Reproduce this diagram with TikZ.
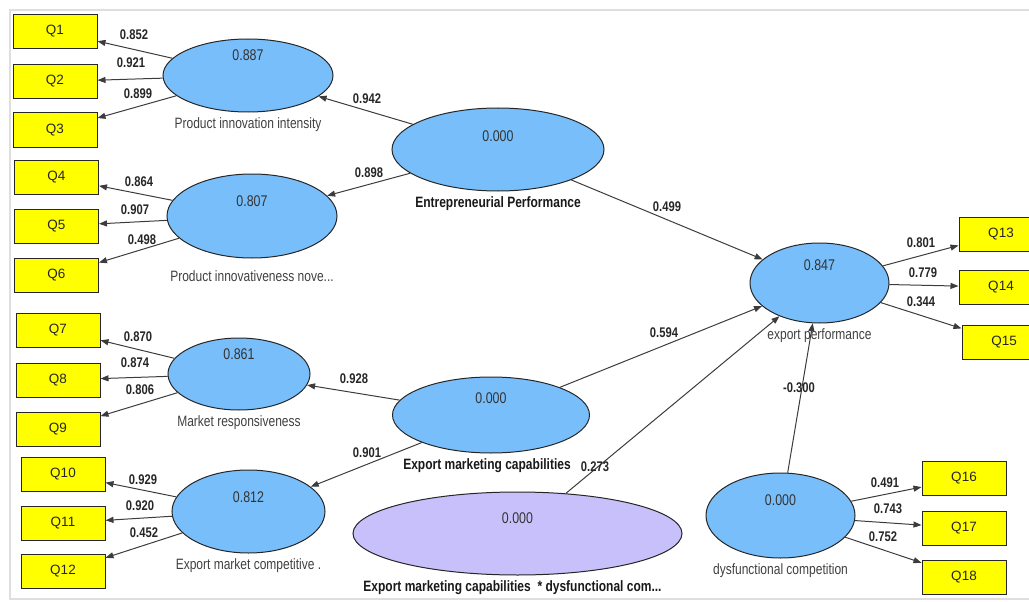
\documentclass[tikz,border=0pt]{standalone}
\usepackage{fontspec}
\setmainfont{Liberation Sans}
\newfontfamily\plsfont{Liberation Sans}[FakeStretch=0.8]
\usetikzlibrary{shapes.geometric,arrows.meta}

\definecolor{lvblue}{RGB}{120,190,250}
\definecolor{lvpurple}{RGB}{200,192,250}
\definecolor{mvyellow}{RGB}{255,255,0}
\definecolor{edgegray}{RGB}{60,60,60}

\tikzset{
  lv/.style={ellipse, draw=black!85, fill=lvblue, line width=1pt, inner sep=0pt},
  mv/.style={rectangle, draw=black!85, fill=mvyellow, line width=1pt,
    minimum width=84pt, minimum height=34pt, inner sep=0pt,
    font=\fontsize{13.5}{14}\selectfont, text=black!85},
  link/.style={draw=edgegray, line width=1pt, -{Triangle[length=8pt,width=6pt]}},
  wt/.style={font=\plsfont\bfseries\fontsize{14}{14}\selectfont, text=black!85, inner sep=0pt},
  valtxt/.style={font=\plsfont\fontsize{15.5}{15.5}\selectfont, text=black!80},
  nametxt/.style={font=\plsfont\fontsize{15}{15}\selectfont, text=black!75, inner sep=0pt, label distance=5pt},
  boldname/.style={font=\plsfont\bfseries\fontsize{15}{15}\selectfont, text=black!90, inner sep=0pt, label distance=5pt},
}

\begin{document}
\begin{tikzpicture}[x=1pt,y=-1pt]
  \useasboundingbox (0,0) rectangle (1029,602);
  %%% Frame of the screen shot
  \draw[gray!25, line width=1.5pt] (1029,10) -- (10,10) -- (10,599) -- (1029,599);

  %%% Latent variables
  \node[lv, minimum width=170pt, minimum height=73pt,
    label={[valtxt,yshift=20pt]center:0.887},
    label={[nametxt]below:Product innovation intensity}] (pii) at (248,75.5) {};
  \node[lv, minimum width=170pt, minimum height=84pt,
    label={[valtxt,yshift=15pt]center:0.807},
    label={[nametxt,label distance=12pt]below:Product innovativeness nove...}] (pin) at (252,216) {};
  \node[lv, minimum width=212pt, minimum height=83pt,
    label={[valtxt,yshift=13.5pt]center:0.000},
    label={[boldname]below:Entrepreneurial Performance}] (ent) at (498,149.5) {};
  \node[lv, minimum width=142pt, minimum height=72pt,
    label={[valtxt,yshift=20pt]center:0.861},
    label={[nametxt]below:Market responsiveness}] (mr) at (239,374) {};
  \node[lv, minimum width=197pt, minimum height=76pt,
    label={[valtxt,yshift=17pt]center:0.000},
    label={[boldname,xshift=-4pt]below:Export marketing capabilities}] (emc) at (491,415) {};
  \node[lv, minimum width=153pt, minimum height=83pt,
    label={[valtxt,yshift=14.5pt]center:0.812},
    label={[nametxt]below:Export market competitive .}] (emcomp) at (248.5,511.5) {};
  \node[lv, fill=lvpurple, minimum width=329pt, minimum height=83pt,
    label={[valtxt,yshift=15.5pt]center:0.000},
    label={[boldname,xshift=-5pt]below:Export marketing capabilities \ * dysfunctional com...}] (int) at (517.5,533.5) {};
  \node[lv, minimum width=139pt, minimum height=80pt,
    label={[valtxt,yshift=18pt]center:0.847},
    label={[nametxt]below:export performance}] (ep) at (819.5,283) {};
  \node[lv, minimum width=149pt, minimum height=85pt,
    label={[valtxt,yshift=15.5pt]center:0.000},
    label={[nametxt]below:dysfunctional competition}] (dc) at (780.5,515.5) {};

  %%% Indicators
  \foreach \i/\x/\y in {1/55/31.5, 2/55/81.5, 3/55/130, 4/56.5/177.5, 5/56.5/226, 6/56.5/275.5,
      7/58/330, 8/58/380, 9/58/429, 10/63/474, 11/63/523, 12/63/571.5,
      13/1001/234, 14/1001/287, 15/1004/342, 16/964/478.5, 17/964/528, 18/964/577}
    \node[mv] (q\i) at (\x,\y) {Q\i};

  %%% Outer model arrows
  \foreach \lv/\a/\b/\c in {pii/1/2/3, pin/4/5/6, mr/7/8/9, emcomp/10/11/12, ep/13/14/15, dc/16/17/18}
    \foreach \q in {\a,\b,\c}
      \draw[link] (\lv) -- (q\q);

  %%% Inner model arrows
  \draw[link] (ent) -- (pii);
  \draw[link] (ent) -- (pin);
  \draw[link] (ent) -- (ep);
  \draw[link] (emc) -- (mr);
  \draw[link] (emc) -- (emcomp);
  \draw[link] (emc) -- (ep);
  \draw[link] (int) -- (ep);
  \draw[link] (dc) -- (ep);

  %%% Path weights
  \foreach \v/\x/\y [count=\i] in {0.852/134/35, 0.921/131/63, 0.899/138/94, 0.864/139/182,
      0.907/135/210, 0.498/142/240, 0.870/138/337, 0.874/135/363, 0.806/140/390,
      0.929/143/480, 0.920/140/506, 0.452/144/533, 0.942/367/99, 0.898/369/173,
      0.499/667/207, 0.928/354/379, 0.901/367/453, 0.594/664/333, 0.273/595/467,
      -0.300/799/388, 0.801/921/243, 0.779/923/273, 0.344/921/302, 0.491/885/483,
      0.743/888/509, 0.752/883/537}
    \node[wt] (w\i) at (\x,\y) {\v};
\end{tikzpicture}
\end{document}
